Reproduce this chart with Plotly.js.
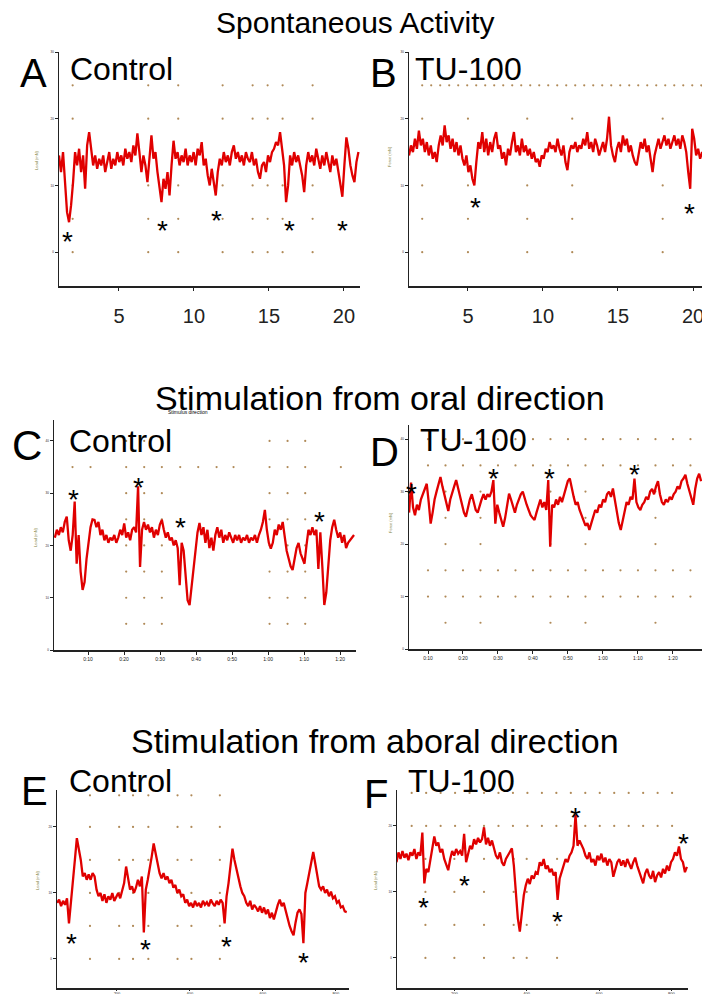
<!DOCTYPE html>
<html><head><meta charset="utf-8">
<script src="https://cdn.plot.ly/plotly-3.0.1.min.js"></script>
<style>html,body{margin:0;padding:0;background:#fff}</style></head>
<body><div id="chart" style="width:702px;height:994px"></div>
<script>
// ---------------- DATA ----------------
// Panel A: Spontaneous activity, Control (x: 1 .. 21, step 0.134)
const traceA = [1.45,1.2,1.5,1.1,0.6,0.45,0.7,1.05,1.5,1.3,
1.55,1.2,1.45,0.95,1.6,1.8,1.5,1.3,1.45,1.25,
1.4,1.3,1.45,1.2,1.35,1.5,1.25,1.4,1.3,1.5,
1.35,1.45,1.3,1.55,1.4,1.5,1.35,1.6,1.45,1.78,
1.5,1.2,1.45,1.3,1.05,1.35,1.75,1.4,1.5,1.2,
0.95,0.75,1.1,0.95,1.2,0.85,1.3,1.67,1.4,1.5,
1.3,1.45,1.35,1.55,1.3,1.45,1.35,1.5,1.3,1.55,
1.45,1.65,1.3,1.4,1.15,1.0,1.25,1.05,0.85,1.2,
1.4,1.3,1.5,1.35,1.45,1.3,1.5,1.6,1.4,1.5,
1.35,1.45,1.3,1.5,1.4,1.35,1.5,1.3,1.4,1.2,
1.1,1.3,1.35,1.2,1.45,1.35,1.5,1.55,1.65,1.6,
1.8,1.55,1.3,0.75,1.0,1.45,1.3,1.5,1.35,1.45,
1.3,1.15,0.9,1.3,1.5,1.35,1.45,1.3,1.55,1.4,
1.25,1.45,1.3,1.5,1.35,1.2,1.45,1.3,1.4,1.2,
1.05,0.83,1.3,1.72,1.55,1.3,1.15,1.05,1.35,1.5];
const starAx = [1.58, 7.91, 11.47, 16.4, 19.9];
const starAy = [0.28, 0.45, 0.6, 0.44, 0.44];

// Panel B: Spontaneous activity, TU-100
const traceB = [1.45,1.6,1.5,1.7,1.55,1.82,1.6,1.7,1.5,1.65,
1.45,1.6,1.4,1.5,1.35,1.6,1.75,1.6,1.9,1.65,
1.75,1.55,1.7,1.5,1.65,1.45,1.6,1.4,1.3,1.45,
1.2,1.3,1.1,1.0,1.35,1.65,1.55,1.8,1.5,1.7,
1.45,1.65,1.5,1.7,1.8,1.55,1.6,1.4,1.5,1.3,
1.55,1.45,1.65,1.8,1.5,1.6,1.45,1.7,1.5,1.6,
1.45,1.55,1.4,1.5,1.35,1.4,1.28,1.45,1.4,1.55,
1.5,1.65,1.55,1.6,1.5,1.7,1.55,1.45,1.6,1.35,
1.23,1.5,1.6,1.55,1.65,1.5,1.6,1.55,1.7,1.6,
1.8,1.55,1.65,1.5,1.7,1.6,1.45,1.55,1.65,1.5,
1.7,2.03,1.6,1.45,1.35,1.55,1.65,1.5,1.75,1.6,
1.7,1.5,1.6,1.45,1.35,1.3,1.5,1.65,1.55,1.7,
1.5,1.6,1.4,1.2,1.45,1.6,1.7,1.55,1.65,1.75,
1.6,1.7,1.55,1.65,1.75,1.6,1.7,1.55,1.75,1.65,
1.5,1.2,0.95,1.85,1.7,1.45,1.55,1.4,1.5,1.45];
const starBx = [5.47, 19.75];
const starBy = [0.79, 0.70];

// Panel C: oral stimulation, Control
const traceC = [2.15,2.3,2.2,2.35,2.25,2.45,2.55,2.1,1.9,2.2,
2.84,1.65,2.2,1.5,1.15,1.3,1.75,2.05,2.35,2.5,
2.49,2.35,2.45,2.2,2.3,2.1,2.2,2.05,2.15,2.1,
2.2,2.05,2.15,2.3,2.2,2.42,2.15,2.25,2.1,2.3,
2.35,2.25,3.13,1.59,2.3,2.45,2.3,2.4,2.25,2.35,
2.15,2.3,2.2,2.4,2.49,2.3,2.15,2.25,2.1,2.15,
2.0,2.1,1.95,1.24,2.05,1.9,1.5,0.95,0.86,1.2,
1.6,1.95,2.25,2.43,2.2,2.35,2.05,2.3,1.95,2.15,
1.9,2.2,2.35,2.15,2.3,2.05,2.2,2.1,2.25,2.15,
2.05,2.2,2.1,2.2,2.05,2.15,2.1,2.2,2.05,2.15,
2.1,2.2,2.05,2.2,2.3,2.45,2.68,2.3,2.05,1.94,
2.05,2.3,2.2,2.4,2.3,2.45,2.2,1.9,1.75,1.6,
1.53,1.75,1.95,2.05,1.85,1.75,1.65,2.0,2.3,2.2,
2.35,2.2,2.3,1.55,2.25,1.6,0.86,1.1,1.6,2.1,
2.35,2.49,2.3,2.15,2.25,2.05,2.2,1.95,2.05,2.1,
2.15,2.2];
const starCx = [0.61, 2.4, 3.57, 7.43];
const starCy = [3.03, 3.27, 2.5, 2.62];

// Panel D: oral stimulation, TU-100
const traceD = [2.6,3.17,2.7,2.55,2.75,2.65,2.85,2.95,3.05,3.15,
2.8,2.39,2.6,2.85,3.0,3.15,3.28,3.1,2.95,2.75,
2.63,2.85,3.0,3.1,3.22,3.05,2.9,2.75,2.6,2.52,
2.7,2.85,2.95,2.8,2.65,2.6,2.75,2.85,2.95,2.85,
2.95,2.9,3.0,3.22,2.39,2.75,2.6,2.45,2.33,2.5,
2.75,2.96,2.85,2.7,2.6,2.75,2.85,2.95,3.0,2.85,
2.75,2.65,2.55,2.5,2.46,2.6,2.75,2.85,2.7,2.8,
2.65,3.22,1.95,2.75,2.7,2.85,2.75,2.9,2.8,2.95,
3.1,3.2,3.25,3.05,2.9,2.75,2.8,2.65,2.55,2.45,
2.35,2.4,2.27,2.4,2.55,2.65,2.6,2.75,2.7,2.85,
2.8,2.95,3.0,2.9,3.06,2.85,2.6,2.4,2.27,2.45,
2.65,2.8,2.75,2.9,2.85,3.25,2.8,2.7,2.65,2.75,
2.8,2.9,2.85,3.0,3.05,2.95,3.1,3.2,2.95,2.8,
2.75,2.85,2.8,2.9,2.85,2.95,3.0,3.1,3.05,3.2,
3.25,3.32,3.15,3.0,2.85,2.75,3.05,3.25,3.34,3.2];
const starDx = [0.53, 2.87, 4.46, 6.9];
const starDy = [3.12, 3.41, 3.41, 3.47];

// Panel E: aboral stimulation, Control
const traceE = [0.85,0.9,0.8,0.88,0.82,0.92,0.54,0.9,1.2,1.5,
1.83,1.65,1.5,1.25,1.3,1.2,1.28,1.2,1.3,1.25,
1.05,0.95,1.0,0.88,0.98,0.85,0.95,0.9,1.0,0.88,
0.95,1.0,0.92,1.05,1.15,1.4,1.2,1.05,1.1,1.0,
1.08,1.2,1.1,1.25,0.4,1.05,1.2,1.35,1.55,1.75,
1.6,1.4,1.3,1.22,1.3,1.2,1.25,1.15,1.2,1.08,
1.12,1.0,1.05,0.95,0.98,0.85,0.9,0.8,0.85,0.78,
0.88,0.8,0.85,0.78,0.88,0.82,0.86,0.8,0.9,0.84,
0.8,0.88,0.82,0.9,0.85,0.54,0.95,1.15,1.4,1.67,
1.5,1.35,1.2,1.1,1.0,0.95,0.85,0.8,0.88,0.75,
0.82,0.78,0.72,0.8,0.7,0.78,0.68,0.75,0.62,0.7,
0.6,0.72,0.82,0.9,0.8,0.85,0.72,0.6,0.5,0.42,
0.36,0.55,0.7,0.75,0.68,0.24,1.0,1.15,1.3,1.5,
1.62,1.45,1.25,1.1,1.05,1.1,1.0,1.05,0.95,1.02,
0.92,0.95,0.85,0.88,0.78,0.8,0.72,0.71];
const starEx = [0.37, 1.39, 2.5, 3.55];
const starEy = [0.35, 0.26, 0.31, 0.07];

// Panel F: aboral stimulation, TU-100
const traceF = [1.45,1.6,1.5,1.62,1.52,1.58,1.48,1.6,1.55,1.65,
1.5,1.6,1.55,1.9,1.13,1.35,1.3,1.5,1.7,1.84,
1.7,1.75,1.6,1.65,1.5,1.4,1.33,1.5,1.62,1.55,
1.65,1.58,1.62,1.55,1.88,1.45,1.6,1.7,1.65,1.8,
1.72,1.82,1.75,1.8,1.98,1.72,1.82,1.7,1.78,1.65,
1.55,1.5,1.6,1.45,1.4,1.5,1.55,1.62,1.66,1.4,
1.05,0.6,0.4,0.7,0.95,1.1,1.2,1.12,1.25,1.2,
1.3,1.28,1.45,1.4,1.5,1.35,1.4,1.3,1.35,1.25,
1.3,0.88,1.2,1.3,1.4,1.5,1.45,1.55,1.6,1.7,
2.17,1.7,1.78,1.72,1.65,1.55,1.5,1.6,1.45,1.5,
1.4,1.55,1.48,1.58,1.45,1.52,1.4,1.5,1.45,1.23,
1.35,1.45,1.5,1.4,1.48,1.38,1.5,1.42,1.35,1.45,
1.52,1.4,1.3,1.2,1.13,1.28,1.35,1.25,1.2,1.32,
1.15,1.25,1.3,1.22,1.35,1.28,1.4,1.32,1.45,1.5,
1.6,1.55,1.69,1.5,1.45,1.3,1.38];
const starFx = [0.57, 1.14, 2.42, 2.68, 4.17];
const starFy = [0.88, 1.22, 0.67, 2.25, 1.85];

// Tick labels
const spontTicks = [5, 10, 15, 20];
const spontTickText = ['5', '10', '15', '20'];
const oralTicks = [1, 2, 3, 4, 5, 6, 7, 8];
const oralTickText = ['0:10', '0:20', '0:30', '0:40', '0:50', '1:00', '1:10', '1:20'];
const aboralTicks = [1, 2, 3, 4];
const aboralTickText = ['200', '400', '600', '800'];

// Dotted background grid (rows of y, columns of x)
const dotColsA = [1.91, 6.95, 8.95, 11.91, 13.91, 14.91, 15.91, 17.91];
const dotRowsA = [2.5, 2, 1, 0.5, 0];
const dotColsBtop = [1.95,2.55,3.15,3.75,4.35,4.95,5.55,6.15,6.75,7.35,7.95,8.55,9.15,9.75,10.35,10.95,11.55,12.15,12.75,13.35,13.95,14.55,15.15,15.75,16.35,16.95,17.55,18.15,18.75,19.35,19.95,20.55];
const dotRowsBtop = [2.5];
const dotColsB = [1.95, 5.0, 8.95, 11.95, 17.98];
const dotRowsB = [2, 1, 0.5, 0];
const dotColsCdense = [0.57, 1.07, 2.06, 2.56, 3.05, 3.56, 4.06, 4.57, 5.04, 6.04, 6.54, 7.03, 8.02];
const dotRowsCdense = [3.5];
const dotColsC = [2.06, 2.56, 3.05, 6.04, 6.54, 7.03];
const dotRowsC = [4, 3, 2.5, 2, 1.5, 1, 0.5];
const dotColsDdense = [1.0,1.5,2.0,2.5,3.0,3.5,4.0,4.5,5.0,5.5,6.0,6.5,7.0,7.5,8.0,8.5];
const dotRowsDdense = [4, 3.5, 1.5, 1];
const dotColsD = [1.5, 2.5, 4.5, 5.5, 7.5];
const dotRowsD = [3, 2.5, 2, 0.5];
const dotColsE = [0.63, 1.03, 1.22, 1.43, 1.83, 2.02, 2.41];
const dotRowsE = [2.48, 2, 1.5, 1, 0.5, 0];
const dotColsFdense = [0.41,0.61,0.81,1.01,1.21,1.41,1.61,1.81,2.01,2.21,2.41,2.61,2.81,3.01,3.21,3.41,3.61,3.81,4.01];
const dotRowsFdense = [2.5, 2];
const dotColsF = [0.6, 1.0, 1.41, 1.82, 2.0, 2.42];
const dotRowsF = [1.5, 1, 0.5, 0];

// ---------------- DRAWING ----------------
const W = 702, H = 994;
const px = v => v / W;
const py = v => 1 - v / H;
const FONT = 'Liberation Sans, Arial, sans-serif';
const RED = '#e00000';
const DOT = '#b08a58';

const data = [];
const annotations = [];

function dotGrid(cols, rows, xa, ya) {
  const xs = [], ys = [];
  rows.forEach(r => cols.forEach(c => { xs.push(c); ys.push(r); }));
  data.push({type: 'scatter', mode: 'markers', x: xs, y: ys, xaxis: xa, yaxis: ya,
    marker: {size: 2.2, color: DOT}, hoverinfo: 'skip', showlegend: false});
}
function trace(vals, x0, dx, xa, ya) {
  data.push({type: 'scatter', mode: 'lines', y: vals, x0: x0, dx: dx, xaxis: xa, yaxis: ya,
    line: {color: RED, width: 2.3}, hoverinfo: 'skip', showlegend: false});
}
function stars(xs, ys, xa, ya) {
  xs.forEach((x, i) => annotations.push({x: x, y: ys[i], xref: xa, yref: ya, text: '*',
    showarrow: false, font: {family: FONT, size: 28, color: '#000'}, yshift: -8}));
}

dotGrid(dotColsA, dotRowsA, 'x', 'y');
dotGrid(dotColsBtop, dotRowsBtop, 'x2', 'y2');
dotGrid(dotColsB, dotRowsB, 'x2', 'y2');
dotGrid(dotColsCdense, dotRowsCdense, 'x3', 'y3');
dotGrid(dotColsC, dotRowsC, 'x3', 'y3');
dotGrid(dotColsDdense, dotRowsDdense, 'x4', 'y4');
dotGrid(dotColsD, dotRowsD, 'x4', 'y4');
dotGrid(dotColsE, dotRowsE, 'x5', 'y5');
dotGrid(dotColsFdense, dotRowsFdense, 'x6', 'y6');
dotGrid(dotColsF, dotRowsF, 'x6', 'y6');

trace(traceA, 1.0, 0.134, 'x', 'y');
trace(traceB, 1.07, 0.132, 'x2', 'y2');
trace(traceC, 0.08, 0.055, 'x3', 'y3');
trace(traceD, 0.46, 0.056, 'x4', 'y4');
trace(traceE, 0.18, 0.027, 'x5', 'y5');
trace(traceF, 0.2, 0.0275, 'x6', 'y6');

stars(starAx, starAy, 'x', 'y');
stars(starBx, starBy, 'x2', 'y2');
stars(starCx, starCy, 'x3', 'y3');
stars(starDx, starDy, 'x4', 'y4');
stars(starEx, starEy, 'x5', 'y5');
stars(starFx, starFy, 'x6', 'y6');

function txt(text, x, y, size, extra) {
  annotations.push(Object.assign({text: text, x: px(x), y: py(y), xref: 'paper', yref: 'paper',
    showarrow: false, xanchor: 'center', yanchor: 'middle',
    font: {family: FONT, size: size, color: '#000'}}, extra || {}));
}
txt('Spontaneous Activity', 355, 22, 30);
txt('Stimulation from oral direction', 380, 398, 34);
txt('Stimulation from aboral direction', 375, 741, 34);
txt('A', 33, 73, 40); txt('Control', 121, 69, 32);
txt('B', 383, 73, 40); txt('TU-100', 468, 69, 32);
txt('C', 27, 446, 42); txt('Control', 120, 441, 32);
txt('D', 384, 452, 40); txt('TU-100', 473, 440, 32);
txt('E', 34, 791, 40); txt('Control', 120, 781, 32);
txt('F', 376, 794, 40); txt('TU-100', 461, 781, 32);
txt('Stimulus direction', 188, 412, 5);
const ytitle = {textangle: -90, font: {family: FONT, size: 4, color: '#7d7d3a'}};
txt('Load (mN)', 37, 160, 4, ytitle);
txt('Force (mN)', 390, 157, 4, ytitle);
txt('Load (mN)', 35, 537, 4, ytitle);
txt('Force (mN)', 390, 523, 4, ytitle);
txt('Load (mN)', 37, 880, 4, ytitle);
txt('Load (mN)', 375, 880, 4, ytitle);

const axLine = {showline: true, linecolor: '#222', linewidth: 1.5, showgrid: false, zeroline: false,
  ticks: 'outside', tickcolor: '#222', ticklen: 3, tickwidth: 1, ticklabeloverflow: 'allow'};
function xax(dom, range, anchor, vals, txts, fsize, standoff, tlen) {
  return Object.assign({}, axLine, {domain: dom, range: range, anchor: anchor, tickvals: vals,
    ticktext: txts, tickfont: {family: FONT, size: fsize, color: '#222'}, ticklabelstandoff: standoff,
    ticklen: tlen});
}
function yax(dom, range, anchor, vals) {
  return Object.assign({}, axLine, {domain: dom, range: range, anchor: anchor, tickvals: vals,
    ticktext: vals.map(v => String(v * 10)), tickfont: {family: FONT, size: 3, color: '#222'}});
}

const layout = {
  width: W, height: H, margin: {l: 0, r: 0, t: 0, b: 0},
  paper_bgcolor: '#fff', plot_bgcolor: 'rgba(0,0,0,0)', showlegend: false,
  font: {family: FONT},
  xaxis: xax([px(59), px(360)], [1, 21.07], 'y', spontTicks, spontTickText, 20, 8, 3),
  yaxis: yax([py(286), py(52)], [-0.507, 3.0], 'x', [0, 1, 2, 3]),
  xaxis2: xax([px(409), 1], [1.07, 20.6], 'y2', spontTicks, spontTickText, 20, 8, 3),
  yaxis2: yax([py(286), py(52)], [-0.507, 3.0], 'x2', [0, 1, 2, 3]),
  xaxis3: xax([px(54), px(356)], [0.056, 8.44], 'y3', oralTicks, oralTickText, 5, 0, 3),
  yaxis3: yax([py(650), py(420)], [0, 4.4], 'x3', [0, 1, 2, 3, 4]),
  xaxis4: xax([px(409), 1], [0.457, 8.83], 'y4', oralTicks, oralTickText, 5, 0, 3),
  yaxis4: yax([py(649), py(425)], [0, 4.27], 'x4', [0, 1, 2, 3, 4]),
  xaxis5: xax([px(57), px(349)], [0.178, 4.18], 'y5', aboralTicks, aboralTickText, 4, 0, 1),
  yaxis5: yax([py(988), py(790)], [-0.44, 2.56], 'x5', [0, 1, 2]),
  xaxis6: xax([px(397), px(688)], [0.207, 4.23], 'y6', aboralTicks, aboralTickText, 4, 0, 1),
  yaxis6: yax([py(988), py(790)], [-0.455, 2.545], 'x6', [0, 1, 2]),
  annotations: annotations
};

Plotly.newPlot('chart', data, layout, {displayModeBar: false, staticPlot: true});
</script>
</body></html>
